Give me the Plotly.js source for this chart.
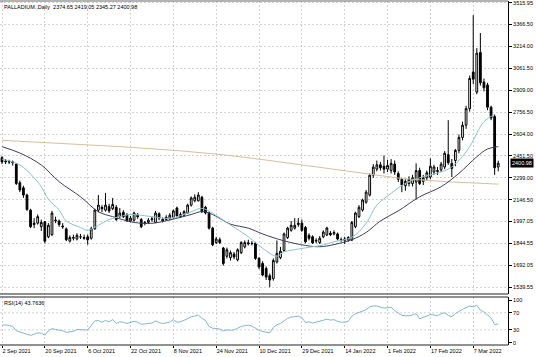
<!DOCTYPE html>
<html><head><meta charset="utf-8">
<script src="https://cdn.plot.ly/plotly-3.0.1.min.js"></script>
<style>html,body{margin:0;padding:0;background:#fff}#chart{width:536px;height:357px}</style>
</head><body><div id="chart"></div>
<script>
// ---- Data ----
const tickIdx  = [0, 12, 24, 36, 48, 60, 72, 84, 96, 108, 120, 132];
const tickText = ["2 Sep 2021","20 Sep 2021","6 Oct 2021","22 Oct 2021","8 Nov 2021","24 Nov 2021",
                  "10 Dec 2021","29 Dec 2021","14 Jan 2022","1 Feb 2022","17 Feb 2022","7 Mar 2022"];
const priceTicks = [3515.95, 3366.50, 3214.00, 3061.50, 2909.00, 2756.50, 2604.00, 2451.50,
                    2299.00, 2146.50, 1997.05, 1844.55, 1692.05, 1539.55];
const rsiTicks = [0, 30, 70, 100];

const open = [2440,2410,2415,2410,2395,2265,2230,2180,2075,1985,
1985,1960,1995,1890,1905,2000,2000,1965,1945,1860,
1880,1875,1890,1885,1890,1880,1945,2075,2095,2075,
2100,2085,2095,2030,2060,2040,2000,2005,2040,2010,
1985,1990,2010,1990,2050,2000,2010,2015,2025,2090,
2030,2040,2055,2110,2140,2140,2165,2095,2055,1950,
1850,1870,1812,1755,1745,1770,1730,1780,1820,1840,
1845,1845,1740,1705,1670,1620,1600,1715,1745,1795,
1885,1935,1950,1975,1985,1955,1900,1890,1860,1850,
1890,1903,1915,1910,1910,1870,1865,1868,1868,1960,
2030,2076,2130,2180,2318,2360,2390,2380,2360,2350,
2395,2330,2290,2245,2260,2260,2270,2350,2275,2300,
2305,2340,2350,2355,2375,2460,2400,2420,2490,2580,
2665,2780,3035,2895,3170,2965,2945,2790,2725,2374.65];
const high = [2450,2430,2425,2420,2400,2280,2245,2190,2085,2020,
2045,2010,2000,1985,2070,2030,2010,1985,1955,1900,
1905,1915,1910,1905,1905,1960,2085,2180,2110,2195,
2120,2160,2110,2090,2075,2055,2035,2065,2055,2020,
2000,2020,2030,2070,2060,2025,2040,2055,2080,2100,
2060,2075,2120,2170,2185,2200,2175,2105,2065,1960,
1890,1885,1820,1815,1795,1785,1810,1860,1865,1870,
1860,1855,1750,1720,1685,1635,1740,1865,1820,1920,
1960,2000,2020,2020,2010,1965,1915,1900,1880,1895,
1935,1960,1930,1935,1920,1885,1890,1895,2000,2065,
2110,2155,2215,2330,2395,2420,2410,2455,2425,2430,
2420,2345,2300,2290,2310,2320,2400,2370,2320,2350,
2435,2390,2375,2410,2485,2700,2430,2500,2600,2690,
2800,3010,3430,3200,3305,2990,2960,2800,2740,2419.05];
const low = [2395,2395,2395,2385,2250,2200,2160,2070,1950,1950,
1975,1930,1845,1880,1895,1985,1960,1945,1860,1850,
1865,1865,1875,1870,1835,1870,1940,2060,2060,2065,
2055,2075,2000,2020,2020,1995,1990,1995,2015,1950,
1970,1980,1995,1985,2005,1990,2000,2005,2015,2025,
2020,2030,2050,2100,2130,2135,2055,2045,1940,1825,
1840,1840,1690,1740,1725,1735,1720,1770,1810,1830,
1830,1730,1665,1615,1590,1540,1585,1705,1735,1785,
1875,1925,1940,1960,1925,1845,1865,1840,1845,1840,
1880,1895,1895,1900,1865,1855,1840,1855,1860,1950,
2020,2065,2120,2170,2300,2345,2350,2330,2340,2330,
2320,2270,2200,2210,2240,2240,2150,2250,2250,2280,
2290,2320,2320,2340,2360,2390,2305,2380,2470,2560,
2640,2760,2950,2880,2940,2900,2770,2700,2320,2345.27];
const close = [2410,2415,2410,2405,2260,2215,2180,2080,1960,1975,
2030,1990,1860,1970,2055,2005,1975,1960,1870,1885,
1885,1900,1890,1880,1870,1945,2075,2110,2085,2110,
2070,2115,2010,2055,2030,2000,2020,2055,2030,1960,
1988,2005,2015,2055,2020,2010,2025,2040,2070,2035,
2045,2065,2110,2160,2165,2180,2065,2055,1950,1835,
1875,1850,1705,1800,1780,1750,1800,1850,1850,1848,
1843,1740,1680,1625,1610,1590,1725,1775,1790,1910,
1950,1970,1970,1985,1935,1855,1880,1848,1865,1880,
1923,1951,1905,1920,1875,1865,1875,1885,1990,2055,
2095,2145,2200,2318,2374,2390,2370,2360,2385,2400,
2340,2290,2250,2275,2290,2300,2350,2260,2300,2335,
2380,2375,2345,2395,2470,2405,2365,2490,2580,2665,
2780,2990,2985,3165,2960,2925,2790,2715,2370,2400.98];

// Moving averages read at sample bars
const maFastIdx = [0,5,9,11,13,16,18,22,24,27,30,33,36,42,47,53,56,59,64,69,73,77,79,83,87,90,93,98,102,105,109,113,117,120,125,128,131,135,138];
const maFastVal = [2430,2389,2300,2238,2150,2076,2000,1955,1935,1970,2010,2030,2045,2030,2018,2064,2088,2053,1972,1891,1810,1755,1785,1805,1821,1833,1856,1886,1984,2111,2192,2261,2300,2320,2360,2420,2516,2690,2740];
const maMidIdx = [0,5,11,16,22,27,31,37,42,47,53,56,59,64,69,73,79,85,89,93,98,102,106,111,117,123,128,133,136,139];
const maMidVal = [2516,2472,2389,2273,2168,2064,2030,1990,1984,2007,2045,2065,2045,1978,1950,1910,1862,1830,1821,1836,1870,1920,2000,2070,2168,2238,2331,2446,2500,2516];
const maSlowIdx = [0,17,34,50,62,74,85,100,112,125,139];
const maSlowVal = [2560,2540,2515,2487,2460,2423,2385,2333,2295,2272,2256];

const rsi = [41,42,40,38,28,25,23,19,17,20,
23,22,18,28,33,31,30,28,24,26,
27,31,30,30,30,42,51,52,48,52,
49,54,45,49,48,45,47,50,48,43,
44,45,46,51,47,45,46,48,54,48,
49,52,56,61,62,65,57,52,38,34,
33,32,28,30,29,30,34,38,40,41,
39,33,29,26,24,23,36,42,45,52,
57,60,61,62,59,47,49,46,48,50,
53,55,53,54,50,48,48,50,62,68,
71,74,77,84,86,86,83,81,82,83,
75,70,64,63,63,65,68,56,59,63,
66,65,63,68,70,64,61,68,74,78,
82,86,84,88,76,72,65,58,42.5,43.7636];

// ---- Build ----
const idx = close.map((_, i) => i);
const FONT = "Liberation Sans, Arial, sans-serif";
const gridCol = "#d2d2d2";

const traces = [
  {type:"scatter", mode:"lines", x:maSlowIdx, y:maSlowVal, line:{color:"#d6bf9e", width:1}, xaxis:"x", yaxis:"y", hoverinfo:"skip"},
  {type:"scatter", mode:"lines", x:maMidIdx, y:maMidVal, line:{color:"#3e3e5e", width:1, shape:"spline"}, xaxis:"x", yaxis:"y", hoverinfo:"skip"},
  {type:"scatter", mode:"lines", x:maFastIdx, y:maFastVal, line:{color:"#8cc4c4", width:1, shape:"spline"}, xaxis:"x", yaxis:"y", hoverinfo:"skip"},
  {type:"candlestick", x:idx, open:open, high:high, low:low, close:close, xaxis:"x", yaxis:"y",
   whiskerwidth:0,
   increasing:{line:{color:"#000", width:1}, fillcolor:"#fff"},
   decreasing:{line:{color:"#000", width:1}, fillcolor:"#000"}, hoverinfo:"skip"},
  {type:"scatter", mode:"lines", x:idx, y:rsi, line:{color:"#86b6cf", width:1}, xaxis:"x", yaxis:"y2", hoverinfo:"skip"}
];

const mainBot = 0.1483, rsiTop = 0.1395;
const layout = {
  width:536, height:357,
  margin:{l:0, r:28, t:1, b:12, pad:0},
  paper_bgcolor:"#fff", plot_bgcolor:"#fff",
  showlegend:false,
  font:{family:FONT, size:5.5, color:"#000"},
  xaxis:{range:[-0.56, 141.74], anchor:"y2", tickmode:"array", tickvals:tickIdx, ticktext:tickText,
         ticklabelposition:"outside right", ticks:"outside", ticklen:2, tickcolor:"#000",
         showgrid:true, gridcolor:gridCol, griddash:"2px,2px", gridwidth:1, zeroline:false,
         showline:false, rangeslider:{visible:false}, tickfont:{size:5.5, family:FONT}, fixedrange:true},
  yaxis:{domain:[mainBot, 1], range:[1492.9, 3527.8], side:"right", tickmode:"array",
         tickvals:priceTicks, ticktext:priceTicks.map(v => v.toFixed(2)),
         ticks:"outside", ticklen:3, tickcolor:"#000", ticklabeloverflow:"allow",
         showgrid:true, gridcolor:gridCol, griddash:"2px,2px", gridwidth:1, zeroline:false,
         showline:true, linecolor:"#000", linewidth:1, tickfont:{size:5.5, family:FONT}, fixedrange:true},
  yaxis2:{domain:[0, rsiTop], range:[-5.4, 107], side:"right", tickmode:"array", tickvals:rsiTicks,
          ticks:"outside", ticklen:3, tickcolor:"#000", showgrid:false, zeroline:false, ticklabeloverflow:"allow",
          showline:true, linecolor:"#000", linewidth:1, tickfont:{size:5.5, family:FONT}, fixedrange:true},
  shapes:[
    {type:"line", xref:"paper", yref:"paper", x0:0, x1:1, y0:1, y1:1, line:{color:"#666", width:1}},
    {type:"line", xref:"paper", yref:"paper", x0:0, x1:1, y0:mainBot, y1:mainBot, line:{color:"#222", width:1}},
    {type:"line", xref:"paper", yref:"paper", x0:0, x1:1, y0:rsiTop, y1:rsiTop, line:{color:"#222", width:1}},
    {type:"line", xref:"paper", yref:"paper", x0:0, x1:1, y0:0, y1:0, line:{color:"#222", width:1}},
    {type:"line", xref:"paper", yref:"y2", x0:0, x1:1, y0:30, y1:30, line:{color:gridCol, width:1, dash:"2px,2px"}, layer:"below"},
    {type:"line", xref:"paper", yref:"y2", x0:0, x1:1, y0:70, y1:70, line:{color:gridCol, width:1, dash:"2px,2px"}, layer:"below"}
  ],
  annotations:[
    {xref:"paper", yref:"paper", x:0, y:1, xanchor:"left", yanchor:"top", xshift:2, yshift:-1,
     text:"PALLADIUM.,Daily\u00a0\u00a02374.65 2419.05 2345.27 2400.98", showarrow:false,
     font:{size:5.5, family:FONT, color:"#000"}},
    {xref:"paper", yref:"paper", x:0, y:rsiTop, xanchor:"left", yanchor:"top", xshift:2, yshift:-1,
     text:"RSI(14) 43.7636", showarrow:false, font:{size:5.5, family:FONT, color:"#000"}},
    {xref:"paper", yref:"y", x:1, y:close[close.length-1], xanchor:"left", yanchor:"middle", xshift:2,
     text:close[close.length-1].toFixed(2), showarrow:false, bgcolor:"#000", borderpad:1,
     font:{size:5.5, family:FONT, color:"#fff"}}
  ]
};

Plotly.newPlot("chart", traces, layout, {staticPlot:true, displayModeBar:false});
</script></body></html>
